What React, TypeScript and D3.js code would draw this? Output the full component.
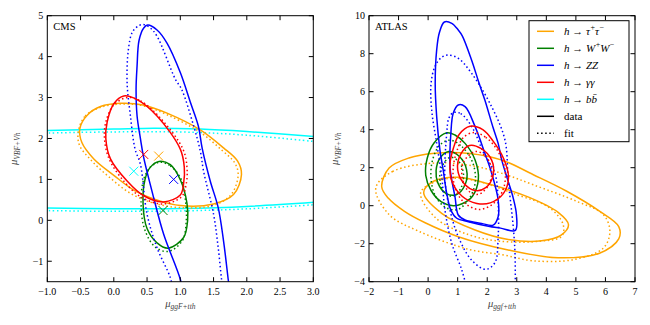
import { useEffect } from 'react'
import * as d3 from 'd3'

type Pt = [number, number]

// ---- CMS panel contours ----
const cmsTauData: Pt[] = [[-0.51,2.25],[-0.40,2.57],[-0.2,2.78],[0.09,2.86],[0.44,2.82],[0.80,2.62],[1.30,2.21],[1.65,1.77],[1.86,1.45],[1.92,1.12],[1.80,0.63],[1.50,0.40],[1.0,0.36],[0.645,0.5],[0.30,0.74],[0.0,1.1],[-0.30,1.5],[-0.48,1.9]]
const cmsTauFit: Pt[] = [[-0.53,2.2],[-0.43,2.55],[-0.2,2.76],[0.09,2.84],[0.44,2.80],[0.80,2.58],[1.30,2.15],[1.62,1.72],[1.82,1.4],[1.87,1.1],[1.76,0.62],[1.48,0.36],[1.0,0.31],[0.6,0.42],[0.25,0.66],[-0.05,1.03],[-0.33,1.45],[-0.52,1.85]]
const cmsWWData: Pt[] = [[0.68,1.44],[0.85,1.36],[1.0,0.99],[1.10,0.42],[1.11,0.0],[1.05,-0.42],[0.82,-0.68],[0.65,-0.55],[0.50,-0.2],[0.44,0.4],[0.47,1.0],[0.55,1.3]]
const cmsWWFit: Pt[] = [[0.69,1.42],[0.85,1.33],[1.02,0.98],[1.08,0.45],[1.09,0.0],[1.03,-0.5],[0.82,-0.76],[0.62,-0.65],[0.46,-0.2],[0.41,0.45],[0.45,1.0],[0.55,1.3]]
const cmsZZData: Pt[] = [[1.03,-1.7],[1.0,-1.44],[0.75,-0.34],[0.60,0.55],[0.45,1.53],[0.40,2.0],[0.35,2.55],[0.335,3.2],[0.35,3.77],[0.38,4.4],[0.45,4.7],[0.51,4.77],[0.65,4.65],[0.80,4.33],[1.0,3.61],[1.15,2.89],[1.27,2.31],[1.33,1.75],[1.45,0.96],[1.57,0.31],[1.65,-0.5],[1.72,-1.44],[1.74,-1.7]]
const cmsZZFit: Pt[] = [[0.89,-1.7],[0.85,-1.4],[0.65,-0.67],[0.50,0.15],[0.40,1.37],[0.32,1.74],[0.25,2.55],[0.20,3.37],[0.22,4.18],[0.28,4.6],[0.38,4.76],[0.46,4.78],[0.55,4.7],[0.65,4.5],[0.925,3.45],[1.02,3.2],[1.20,2.31],[1.30,1.70],[1.35,1.2],[1.5,0.15],[1.57,-0.67],[1.62,-1.44],[1.64,-1.7]]
const cmsGGData: Pt[] = [[0.15,3.04],[0.35,2.95],[0.65,2.55],[1.0,1.74],[1.06,1.3],[1.05,0.9],[1.0,0.62],[0.75,0.45],[0.45,0.6],[0.20,0.96],[-0.05,1.5],[-0.12,2.0],[-0.10,2.4],[0.0,2.85]]
const cmsGGFit: Pt[] = [[0.2,3.0],[0.4,2.92],[0.7,2.5],[1.04,1.74],[1.10,1.3],[1.09,0.9],[1.02,0.58],[0.75,0.40],[0.43,0.55],[0.17,0.92],[-0.07,1.5],[-0.14,2.0],[-0.12,2.4],[0.0,2.82]]
const cmsBBDataHi: Pt[] = [[-1.1,2.19],[0,2.23],[0.6,2.25],[1.3,2.23],[2,2.17],[3.1,2.04]]
const cmsBBFitHi: Pt[] = [[-1.1,2.13],[0,2.16],[1,2.16],[2,2.08],[3.1,1.91]]
const cmsBBDataLo: Pt[] = [[-1.1,0.30],[0,0.28],[1,0.29],[2,0.34],[3.1,0.45]]
const cmsBBFitLo: Pt[] = [[-1.1,0.24],[0,0.22],[1,0.23],[2,0.28],[3.1,0.39]]

// best-fit crosses (CMS)
const cmsBest: { channel: string; x: number; y: number }[] = [
  { channel: 'gg', x: 0.45, y: 1.61 },
  { channel: 'tau', x: 0.675, y: 1.57 },
  { channel: 'bb', x: 0.30, y: 1.20 },
  { channel: 'zz', x: 0.90, y: 1.0 },
  { channel: 'ww', x: 0.74, y: 0.24 },
]

// ---- ATLAS panel contours ----
const atlasTauData1: Pt[] = [[-0.15,0.7],[0.2,1.3],[1.02,1.5],[2.15,1.1],[3.4,0.45],[4.4,-0.35],[4.75,-1.0],[4.5,-1.55],[3.84,-1.85],[2.71,-1.78],[1.59,-1.28],[0.46,-0.4]]
const atlasTauData2: Pt[] = [[-1.57,1.0],[-1.32,1.98],[-0.65,2.51],[0.23,2.76],[1.4,2.75],[2.5,2.4],[3.56,1.63],[4.69,0.76],[5.81,-0.30],[6.45,-1.1],[6.45,-1.75],[5.8,-2.5],[4.4,-2.74],[2.71,-2.33],[1.02,-1.63],[-0.1,-0.9],[-0.8,-0.3],[-1.35,0.4]]
const atlasTauFit1: Pt[] = [[-0.25,0.7],[0.48,1.37],[1.5,1.35],[3.0,0.58],[4.12,-0.12],[4.57,-1.0],[4.52,-1.61],[3.78,-1.87],[2.43,-1.87],[1.38,-1.53],[0.26,-0.65]]
const atlasTauFit2: Pt[] = [[-1.77,0.93],[-1.2,1.8],[0.26,2.25],[1.5,2.1],[2.5,1.7],[3.56,1.1],[5.03,0.23],[5.93,-0.47],[6.15,-1.35],[5.93,-2.23],[4.91,-2.84],[3.56,-2.9],[2.51,-2.58],[1.38,-2.3],[-0.31,-1.35],[-1.32,-0.47]]
const atlasWWData1: Pt[] = [[0.70,2.85],[1.05,2.6],[1.30,1.9],[1.25,1.1],[0.95,0.58],[0.60,0.65],[0.33,1.2],[0.27,1.85],[0.40,2.5]]
const atlasWWData2: Pt[] = [[0.63,3.84],[0.91,3.72],[1.25,3.28],[1.59,2.41],[1.70,1.4],[1.50,0.5],[1.15,0.1],[0.85,0.0],[0.45,0.2],[0.1,0.8],[-0.08,1.6],[-0.03,2.5],[0.2,3.3]]
const atlasWWFit1: Pt[] = [[0.75,2.55],[1.05,2.3],[1.2,1.6],[1.1,0.9],[0.85,0.5],[0.55,0.7],[0.4,1.3],[0.45,2.0]]
const atlasWWFit2: Pt[] = [[0.75,3.45],[1.15,3.1],[1.5,2.3],[1.6,1.3],[1.4,0.4],[1.0,-0.2],[0.6,-0.1],[0.25,0.5],[0.1,1.4],[0.15,2.4],[0.4,3.2]]
const atlasZZData1: Pt[] = [[1.02,5.3],[1.25,5.21],[1.59,4.16],[1.92,2.76],[2.15,1.71],[2.37,0.30],[2.37,-0.58],[2.20,-1.02],[1.81,-0.93],[1.25,-0.75],[1.02,-0.49],[0.91,0.47],[0.80,1.35],[0.74,2.05],[0.77,3.81],[0.85,4.86]]
const atlasZZData2: Pt[] = [[0.55,9.67],[0.80,9.6],[1.02,9.25],[1.16,8.93],[1.47,7.67],[1.72,6.47],[1.92,5.56],[2.2,4.1],[2.37,3.28],[2.49,2.41],[2.71,1.28],[2.88,0.40],[2.99,-0.5],[2.95,-1.3],[2.45,-1.18],[2.04,-1.08],[1.36,-0.84],[0.97,-0.66],[0.77,-0.23],[0.63,0.65],[0.51,1.88],[0.40,2.93],[0.29,4.68],[0.24,6.44],[0.29,8.2],[0.38,9.1]]
const atlasZZFit1: Pt[] = [[0.85,4.9],[1.1,4.85],[1.5,4.1],[1.9,2.7],[2.26,1.71],[2.37,0.13],[2.37,-1.63],[2.26,-3.0],[1.95,-3.35],[1.47,-2.86],[1.02,-1.63],[0.74,-0.23],[0.57,1.35],[0.63,3.81],[0.7,4.6]]
const atlasZZFit2: Pt[] = [[1.30,-4.3],[1.14,-3.38],[0.80,-1.98],[0.57,-0.23],[0.46,1.53],[0.29,3.28],[0.12,5.04],[0.10,6.44],[0.23,7.32],[0.45,7.8],[0.68,7.93],[1.02,7.76],[1.47,6.97],[2.15,5.21],[2.6,3.46],[2.71,1.35],[2.88,-1.1],[2.94,-2.5],[2.95,-4.3]]
const atlasGGData1: Pt[] = [[1.4,3.17],[1.8,3.0],[2.15,2.4],[2.2,1.6],[1.95,0.95],[1.6,0.8],[1.2,1.2],[1.0,1.9],[1.1,2.7]]
const atlasGGData2: Pt[] = [[1.42,4.18],[1.85,4.0],[2.2,3.4],[2.55,2.5],[2.72,1.5],[2.55,0.65],[2.1,0.15],[1.65,0.12],[1.15,0.5],[0.8,1.3],[0.74,2.2],[0.85,3.0],[1.05,3.75]]
const atlasGGFit1: Pt[] = [[1.6,2.85],[1.95,2.6],[2.15,1.9],[2.05,1.1],[1.7,0.6],[1.35,0.8],[1.15,1.5],[1.2,2.3]]
const atlasGGFit2: Pt[] = [[1.55,3.85],[1.95,3.6],[2.35,2.9],[2.6,1.9],[2.55,0.9],[2.2,0.1],[1.7,-0.2],[1.2,0.2],[0.9,1.0],[0.85,2.0],[1.0,3.0],[1.2,3.6]]

// ---- ticks ----
const cmsXTicks = [-1.0, -0.5, 0.0, 0.5, 1.0, 1.5, 2.0, 2.5, 3.0]
const cmsYTicks = [-1, 0, 1, 2, 3, 4, 5]
const atlasXTicks = [-2, -1, 0, 1, 2, 3, 4, 5, 6, 7]
const atlasYTicks = [-4, -2, 0, 2, 4, 6, 8, 10]

const colors: Record<string, string> = {
  tau: '#FFA500', ww: '#008000', zz: '#0000FF', gg: '#FF0000', bb: '#00FFFF',
}
const legendLabels: { key: string; parts: [string, string?][] }[] = [
  { key: 'tau', parts: [['h → τ'], ['+', 'sup'], ['τ'], ['−', 'sup']] },
  { key: 'ww', parts: [['h → W'], ['+', 'sup'], ['W'], ['−', 'sup']] },
  { key: 'zz', parts: [['h → ZZ']] },
  { key: 'gg', parts: [['h → γγ']] },
  { key: 'bb', parts: [['h → bb̄']] },
]

const FONT = '"Liberation Serif", "DejaVu Serif", serif'
const fmt = (v: number, digits = 0) => v.toFixed(digits).replace('-', '−')

type Contour = { pts: Pt[]; ch: string; fit: boolean; closed: boolean }

const cmsContours: Contour[] = [
  { pts: cmsBBDataHi, ch: 'bb', fit: false, closed: false },
  { pts: cmsBBFitHi, ch: 'bb', fit: true, closed: false },
  { pts: cmsBBDataLo, ch: 'bb', fit: false, closed: false },
  { pts: cmsBBFitLo, ch: 'bb', fit: true, closed: false },
  { pts: cmsTauData, ch: 'tau', fit: false, closed: true },
  { pts: cmsTauFit, ch: 'tau', fit: true, closed: true },
  { pts: cmsWWData, ch: 'ww', fit: false, closed: true },
  { pts: cmsWWFit, ch: 'ww', fit: true, closed: true },
  { pts: cmsZZData, ch: 'zz', fit: false, closed: false },
  { pts: cmsZZFit, ch: 'zz', fit: true, closed: false },
  { pts: cmsGGData, ch: 'gg', fit: false, closed: true },
  { pts: cmsGGFit, ch: 'gg', fit: true, closed: true },
]
const atlasContours: Contour[] = [
  { pts: atlasTauData1, ch: 'tau', fit: false, closed: true },
  { pts: atlasTauData2, ch: 'tau', fit: false, closed: true },
  { pts: atlasTauFit1, ch: 'tau', fit: true, closed: true },
  { pts: atlasTauFit2, ch: 'tau', fit: true, closed: true },
  { pts: atlasWWData1, ch: 'ww', fit: false, closed: true },
  { pts: atlasWWData2, ch: 'ww', fit: false, closed: true },
  { pts: atlasWWFit1, ch: 'ww', fit: true, closed: true },
  { pts: atlasWWFit2, ch: 'ww', fit: true, closed: true },
  { pts: atlasZZData1, ch: 'zz', fit: false, closed: true },
  { pts: atlasZZData2, ch: 'zz', fit: false, closed: true },
  { pts: atlasZZFit1, ch: 'zz', fit: true, closed: true },
  { pts: atlasZZFit2, ch: 'zz', fit: true, closed: false },
  { pts: atlasGGData1, ch: 'gg', fit: false, closed: true },
  { pts: atlasGGData2, ch: 'gg', fit: false, closed: true },
  { pts: atlasGGFit1, ch: 'gg', fit: true, closed: true },
  { pts: atlasGGFit2, ch: 'gg', fit: true, closed: true },
]

const DOT = '1.5,2.6'

function Panel({ id, xDomain, yDomain, xRange, yRange, xTicks, yTicks, xDigits, contours, tag, xSub, ySubX, best }: any) {
  const x = d3.scaleLinear().domain(xDomain).range(xRange)
  const y = d3.scaleLinear().domain(yDomain).range(yRange)
  const [x0, x1] = xRange
  const [y1, y0] = yRange // y1 = bottom, y0 = top
  const lineClosed = d3.line<Pt>().x(d => x(d[0])).y(d => y(d[1])).curve(d3.curveCatmullRomClosed.alpha(0.5))
  const lineOpen = d3.line<Pt>().x(d => x(d[0])).y(d => y(d[1])).curve(d3.curveCatmullRom.alpha(0.5))
  const tl = 4.5
  return (
    <g>
      <defs>
        <clipPath id={id}><rect x={x0} y={y0} width={x1 - x0} height={y1 - y0} /></clipPath>
      </defs>
      <rect x={x0} y={y0} width={x1 - x0} height={y1 - y0} fill="#fff" />
      <g clipPath={`url(#${id})`}>
        {contours.map((c: Contour, i: number) => (
          <path key={i} d={(c.closed ? lineClosed : lineOpen)(c.pts) || ''} fill="none"
            stroke={colors[c.ch]} strokeWidth={1.5}
            strokeDasharray={c.fit ? DOT : undefined} />
        ))}
        {(best || []).map((b: any, i: number) => {
          const cx = x(b.x), cy = y(b.y), r = 4.5
          return (
            <path key={'b' + i} d={`M${cx - r},${cy - r}L${cx + r},${cy + r}M${cx - r},${cy + r}L${cx + r},${cy - r}`}
              stroke={colors[b.channel]} strokeWidth={1} fill="none" />
          )
        })}
      </g>
      <rect x={x0} y={y0} width={x1 - x0} height={y1 - y0} fill="none" stroke="#000" strokeWidth={1} />
      {xTicks.map((t: number) => (
        <g key={'x' + t}>
          <line x1={x(t)} x2={x(t)} y1={y1} y2={y1 - tl} stroke="#000" />
          <line x1={x(t)} x2={x(t)} y1={y0} y2={y0 + tl} stroke="#000" />
          <text x={x(t)} y={y1 + 13} textAnchor="middle" fontSize={10} fontFamily={FONT}>{fmt(t, xDigits)}</text>
        </g>
      ))}
      {yTicks.map((t: number) => (
        <g key={'y' + t}>
          <line x1={x0} x2={x0 + tl} y1={y(t)} y2={y(t)} stroke="#000" />
          <line x1={x1} x2={x1 - tl} y1={y(t)} y2={y(t)} stroke="#000" />
          <text x={x0 - 4} y={y(t)} dy="0.33em" textAnchor="end" fontSize={10} fontFamily={FONT}>{fmt(t)}</text>
        </g>
      ))}
      <text x={x0 + 6} y={y0 + 14} fontSize={10.5} fontFamily={FONT}>{tag}</text>
      <text x={(x0 + x1) / 2} y={y1 + 25} textAnchor="middle" fontFamily={FONT} fontStyle="italic" fontSize={10.5} fill="#444">
        μ<tspan fontSize={7.5} dy={2.5}>{xSub}</tspan>
      </text>
      <text transform={`translate(${ySubX},${(y0 + y1) / 2}) rotate(-90)`} textAnchor="middle" fontFamily={FONT} fontStyle="italic" fontSize={10.5} fill="#444">
        μ<tspan fontSize={7.5} dy={2.5}>VBF+Vh</tspan>
      </text>
    </g>
  )
}

function Legend() {
  const lx = 529, ly = 20.7, w = 100, h = 121
  const rowY = (i: number) => 31.3 + i * 17
  return (
    <g>
      <rect x={lx} y={ly} width={w} height={h} fill="#fff" stroke="#000" strokeWidth={1} />
      {legendLabels.map((l, i) => (
        <g key={l.key}>
          <line x1={537} x2={554} y1={rowY(i)} y2={rowY(i)} stroke={colors[l.key]} strokeWidth={1.5} />
          <text x={564} y={rowY(i) + 3.5} fontSize={11} fontFamily={FONT} fontStyle="italic">
            {l.parts.map((p, j) => p[1] === 'sup'
              ? <tspan key={j} fontSize={8} dy={-4.5} dx={0.5} fontStyle="normal">{p[0]}</tspan>
              : <tspan key={j} dy={j > 0 && l.parts[j - 1][1] === 'sup' ? 4.5 : 0}>{p[0]}</tspan>)}
          </text>
        </g>
      ))}
      <line x1={537} x2={554} y1={rowY(5)} y2={rowY(5)} stroke="#000" strokeWidth={1.5} />
      <text x={564} y={rowY(5) + 3.5} fontSize={11} fontFamily={FONT}>data</text>
      <line x1={537} x2={554} y1={rowY(6)} y2={rowY(6)} stroke="#000" strokeWidth={1.5} strokeDasharray={DOT} />
      <text x={564} y={rowY(6) + 3.5} fontSize={11} fontFamily={FONT}>fit</text>
    </g>
  )
}

export default function App() {
  useEffect(() => { document.body.style.margin = '0' }, [])
  return (
    <div style={{ position: 'absolute', left: 0, top: 0, width: 650, height: 325, background: '#fff' }}>
      <svg width={650} height={325} style={{ display: 'block' }}>
        <Panel id="clipCms" xDomain={[-1, 3]} yDomain={[-1.5, 5]} xRange={[47.3, 313.3]} yRange={[281.7, 15.7]}
          xTicks={cmsXTicks} yTicks={cmsYTicks} xDigits={1} contours={cmsContours} tag="CMS"
          xSub="ggF+tth" ySubX={17} best={cmsBest} />
        <Panel id="clipAtlas" xDomain={[-2, 7]} yDomain={[-4, 10]} xRange={[369, 635]} yRange={[281.7, 15.7]}
          xTicks={atlasXTicks} yTicks={atlasYTicks} xDigits={0} contours={atlasContours} tag="ATLAS"
          xSub="ggf+tth" ySubX={338} />
        <Legend />
      </svg>
    </div>
  )
}
